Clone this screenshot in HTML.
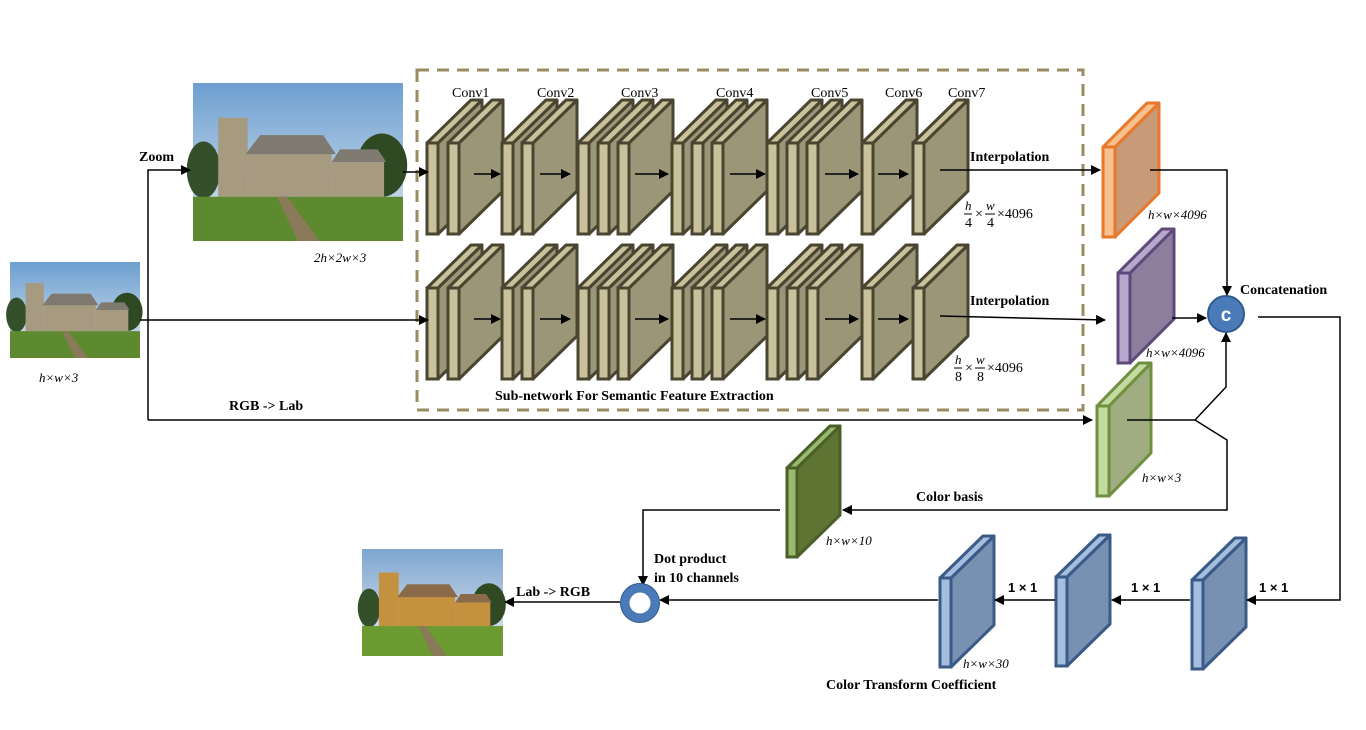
<!DOCTYPE html>
<html><head><meta charset="utf-8">
<style>
html,body{margin:0;padding:0;background:#fff;width:1366px;height:730px;overflow:hidden}
svg{display:block}
.b{font-family:"Liberation Serif",serif;font-weight:bold;font-size:14px;fill:#000}
.s{font-family:"Liberation Sans",sans-serif;font-weight:bold;font-size:13px;fill:#000}
.r{font-family:"Liberation Serif",serif;font-size:14px;fill:#000}
.i{font-family:"Liberation Serif",serif;font-style:italic;font-size:13px;fill:#000}
</style></head>
<body>
<svg id="s" width="1366" height="730" viewBox="0 0 1366 730" xmlns="http://www.w3.org/2000/svg">
<defs>
<marker id="ar" markerWidth="10" markerHeight="10" refX="9" refY="5" orient="auto" markerUnits="userSpaceOnUse"><path d="M0,0 L10,5 L0,10 z" fill="#000"/></marker>
<linearGradient id="sky" x1="0" y1="0" x2="0" y2="1"><stop offset="0" stop-color="#6d9fd0"/><stop offset="1" stop-color="#dfe9f2"/></linearGradient>
<linearGradient id="sky2" x1="0" y1="0" x2="0" y2="1"><stop offset="0" stop-color="#7ea6cf"/><stop offset="1" stop-color="#e6edf3"/></linearGradient>
</defs>
<rect x="417" y="70" width="666" height="340" fill="none" stroke="#9a8c62" stroke-width="3" stroke-dasharray="12,8"/>
<g id="slabs"></g>
<g id="photos"></g>
<g fill="none" stroke="#000" stroke-width="1.5">
<path d="M140,320 L428,320" marker-end="url(#ar)"/>
<path d="M148,420 L148,170 L190,170" marker-end="url(#ar)"/>
<path d="M148,420 L1092,420" marker-end="url(#ar)"/>
<path d="M403,172 L428,172" marker-end="url(#ar)"/>
<path d="M940,170 L1100,170" marker-end="url(#ar)"/>
<path d="M940,316 L1105,320" marker-end="url(#ar)"/>
<path d="M1150,170 L1227,170 L1227,295" marker-end="url(#ar)"/>
<path d="M1172,318 L1206,318" marker-end="url(#ar)"/>
<path d="M1127,420 L1195,420 L1226,387 L1226,333" marker-end="url(#ar)"/>
<path d="M1195,420 L1227,440 L1227,510 L843,510" marker-end="url(#ar)"/>
<path d="M1258,317 L1340,317 L1340,600 L1247,600" marker-end="url(#ar)"/>
<path d="M1190,600 L1112,600" marker-end="url(#ar)"/>
<path d="M1055,600 L995,600" marker-end="url(#ar)"/>
<path d="M938,600 L660,600" marker-end="url(#ar)"/>
<path d="M780,510 L643,510 L643,585" marker-end="url(#ar)"/>
<path d="M620,602 L505,602" marker-end="url(#ar)"/>
</g>
<g id="inarrows" stroke="#000" stroke-width="1.5" fill="none"></g>
<circle cx="1226" cy="314" r="18" fill="#4a7ab8" stroke="#2e5a8e" stroke-width="2"/>
<text x="1226" y="321" text-anchor="middle" font-family="Liberation Sans,sans-serif" font-weight="bold" font-size="19" fill="#fff">c</text>
<circle cx="640" cy="603" r="15" fill="none" stroke="#4a7ab8" stroke-width="9"/>
<circle cx="640" cy="603" r="19.5" fill="none" stroke="#2e5a8e" stroke-width="1"/>
<g>
<text class="r" x="452" y="97">Conv1</text><text class="r" x="537" y="97">Conv2</text><text class="r" x="621" y="97">Conv3</text>
<text class="r" x="716" y="97">Conv4</text><text class="r" x="811" y="97">Conv5</text><text class="r" x="885" y="97">Conv6</text><text class="r" x="948" y="97">Conv7</text>
<text class="b" x="139" y="161">Zoom</text>
<text class="i" x="314" y="262">2h×2w×3</text>
<text class="i" x="39" y="382">h×w×3</text>
<text class="b" x="229" y="410">RGB -&gt; Lab</text>
<text class="b" x="970" y="161">Interpolation</text>
<text class="b" x="970" y="305">Interpolation</text>
<text class="i" x="965" y="210" font-size="12">h</text><line x1="964" y1="214" x2="972" y2="214" stroke="#000"/><text class="r" x="965" y="227" font-size="12">4</text>
<text class="r" x="975" y="218" font-size="12">×</text>
<text class="i" x="986" y="210" font-size="12">w</text><line x1="985" y1="214" x2="995" y2="214" stroke="#000"/><text class="r" x="987" y="227" font-size="12">4</text>
<text class="r" x="997" y="218" font-size="12">×4096</text>
<text class="i" x="955" y="364" font-size="12">h</text><line x1="954" y1="368" x2="962" y2="368" stroke="#000"/><text class="r" x="955" y="381" font-size="12">8</text>
<text class="r" x="965" y="372" font-size="12">×</text>
<text class="i" x="976" y="364" font-size="12">w</text><line x1="975" y1="368" x2="985" y2="368" stroke="#000"/><text class="r" x="977" y="381" font-size="12">8</text>
<text class="r" x="987" y="372" font-size="12">×4096</text>
<text class="b" x="495" y="400">Sub-network For Semantic Feature Extraction</text>
<text class="i" x="1148" y="219">h×w×4096</text>
<text class="i" x="1146" y="357">h×w×4096</text>
<text class="i" x="1142" y="482">h×w×3</text>
<text class="b" x="1240" y="294">Concatenation</text>
<text class="b" x="916" y="501">Color basis</text>
<text class="i" x="826" y="545">h×w×10</text>
<text class="b" x="654" y="563">Dot product</text>
<text class="b" x="654" y="582">in 10 channels</text>
<text class="b" x="516" y="596">Lab -&gt; RGB</text>
<text class="s" x="1008" y="592">1 × 1</text>
<text class="s" x="1131" y="592">1 × 1</text>
<text class="s" x="1259" y="592">1 × 1</text>
<text class="i" x="963" y="668">h×w×30</text>
<text class="b" x="826" y="689">Color Transform Coefficient</text>
</g>
</svg>
<script>
var NS='http://www.w3.org/2000/svg';
var convX=[427,448,502,522,578,598,618,672,692,712,767,787,807,862,913];
var rowY=[143,288];
var arrowX=[[474,500],[540,570],[635,668],[730,765],[825,858],[878,908]];
function mk(t,a,p){var e=document.createElementNS(NS,t);for(var k in a)e.setAttribute(k,a[k]);p.appendChild(e);return e;}
function slab(p,x,y,w,h,dx,dy,front,side,top,stroke,sw,name){
 var g=mk('g',{},p);
 
 
 mk('polygon',{points:(x+w)+','+y+' '+(x+w+dx)+','+(y-dy)+' '+(x+w+dx)+','+(y+h-dy)+' '+(x+w)+','+(y+h),fill:side,stroke:stroke,'stroke-width':sw,'stroke-linejoin':'round'},g);
 mk('polygon',{points:x+','+y+' '+(x+dx)+','+(y-dy)+' '+(x+w+dx)+','+(y-dy)+' '+(x+w)+','+y,fill:top,stroke:stroke,'stroke-width':sw,'stroke-linejoin':'round'},g);
 mk('rect',{x:x,y:y,width:w,height:h,fill:front,stroke:stroke,'stroke-width':sw},g);
}
var S=document.getElementById('slabs');
rowY.forEach(function(y,r){
 convX.forEach(function(x){slab(S,x,y,11,91,44,43,'#c9c19b','#9c9678','#c9c19b','#4a4530',3,'conv-layer');});
});
var A=document.getElementById('inarrows');
rowY.forEach(function(y){arrowX.forEach(function(a){
 var l=mk('line',{x1:a[0],y1:y+31,x2:a[1],y2:y+31,'marker-end':'url(#ar)'},A);
 
 
});});
slab(S,1103,147,12,90,44,44,'#f9c090','#c99a78','#f9c090','#e8782a',3,'feature-map-orange');
slab(S,1118,273,12,90,44,44,'#b9a6cc','#8e7e9e','#b9a6cc','#5e4a7a',3,'feature-map-purple');
slab(S,1097,406,12,90,42,43,'#c4dba0','#9fad80','#c4dba0','#6e9040',3,'feature-map-green');
slab(S,787,468,10,89,43,42,'#9ab870','#5e7432','#9ab870','#4a6028',3,'color-basis-map');
slab(S,940,578,11,89,43,42,'#a6bede','#7890b2','#a6bede','#3a5a88',3,'coefficient-map-1');
slab(S,1056,577,11,89,43,42,'#a6bede','#7890b2','#a6bede','#3a5a88',3,'coefficient-map-2');
slab(S,1192,580,11,89,43,42,'#a6bede','#7890b2','#a6bede','#3a5a88',3,'coefficient-map-3');
var P=document.getElementById('photos');
function photo(x,y,w,h,warm,name){
 var g=mk('g',{},P);
 
 
 mk('rect',{x:x,y:y,width:w,height:h,fill:warm?'url(#sky2)':'url(#sky)'},g);
 mk('ellipse',{cx:x+w*0.9,cy:y+h*0.52,rx:w*0.12,ry:h*0.2,fill:'#2f4a22'},g);
 mk('ellipse',{cx:x+w*0.05,cy:y+h*0.55,rx:w*0.08,ry:h*0.18,fill:'#34502a'},g);
 var stone=warm?'#c4923e':'#a69a80', roof=warm?'#8a6a48':'#7e7a70';
 mk('rect',{x:x+w*0.12,y:y+h*0.22,width:w*0.14,height:h*0.5,fill:stone},g);
 mk('rect',{x:x+w*0.26,y:y+h*0.44,width:w*0.4,height:h*0.28,fill:stone},g);
 mk('polygon',{points:(x+w*0.25)+','+(y+h*0.45)+' '+(x+w*0.32)+','+(y+h*0.33)+' '+(x+w*0.62)+','+(y+h*0.33)+' '+(x+w*0.68)+','+(y+h*0.45),fill:roof},g);
 mk('rect',{x:x+w*0.66,y:y+h*0.5,width:w*0.25,height:h*0.22,fill:stone},g);
 mk('polygon',{points:(x+w*0.66)+','+(y+h*0.5)+' '+(x+w*0.7)+','+(y+h*0.42)+' '+(x+w*0.88)+','+(y+h*0.42)+' '+(x+w*0.92)+','+(y+h*0.5),fill:roof},g);
 mk('rect',{x:x,y:y+h*0.72,width:w,height:h*0.28,fill:warm?'#6a9a30':'#5d8a2e'},g);
 mk('polygon',{points:(x+w*0.4)+','+(y+h*0.72)+' '+(x+w*0.45)+','+(y+h*0.72)+' '+(x+w*0.6)+','+(y+h)+' '+(x+w*0.5)+','+(y+h),fill:'#8a7a5a'},g);
}
photo(193,83,210,158,false,'zoomed-input-photo');
photo(10,262,130,96,false,'input-photo');
photo(362,549,141,107,true,'output-photo');
</script>
</body></html>
